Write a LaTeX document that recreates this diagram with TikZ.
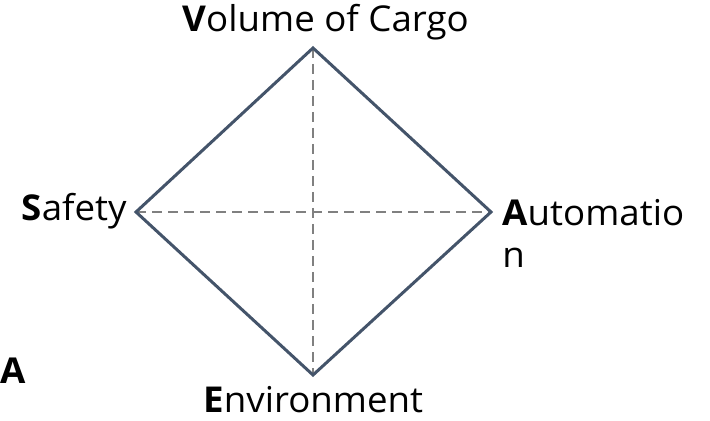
\documentclass[tikz,border=0pt]{standalone}
\usepackage{fontspec}
\setmainfont{Open Sans}[FakeStretch=1.03]
\usepackage{tikz}
\usetikzlibrary{calc}
\definecolor{slate}{RGB}{68,84,106}
\definecolor{midgray}{RGB}{128,128,128}

\begin{document}
\begin{tikzpicture}[x=0.5pt,y=-0.5pt,
    edge/.style={draw=slate, line width=1.5pt, line join=miter},
    axis/.style={draw=midgray, line width=1.2pt, dash pattern=on 5pt off 3pt},
    lbl/.style={inner sep=0pt, font=\fontsize{17.8}{21}\selectfont}]
    \useasboundingbox (0,0) rectangle (710,421);
    % Define points
    \coordinate (V) at (313, 48);
    \coordinate (S) at (136, 212);
    \coordinate (A) at (491, 212);
    \coordinate (E) at (313, 375);
    % Axes
    \draw[axis] (V) -- (E);
    \draw[axis] (S) -- (A);
    % Diamond
    \draw[edge] (V) -- (A) -- (E) -- (S) -- cycle;
    % Labels
    \node[lbl, anchor=base west] (vol) at (182, 32) {\textbf{V}olume of Cargo};
    \node[lbl, anchor=base east] (saf) at (127, 221) {\textbf{S}afety};
    \node[lbl, anchor=base west, align=left] (aut) at (502, 268) {\textbf{A}utomatio\\n};
    \node[lbl, anchor=base west] (env) at (203, 412) {\textbf{E}nvironment};
    \node[lbl, anchor=base west] (mark) at (0, 383) {\textbf{A}};
\end{tikzpicture}
\end{document}
